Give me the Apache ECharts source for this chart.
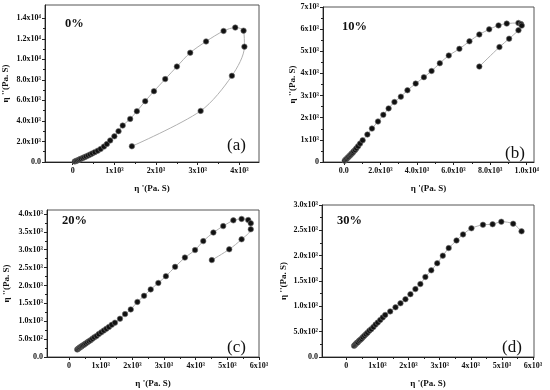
<!DOCTYPE html>
<html><head><meta charset="utf-8">
<script src="https://cdn.jsdelivr.net/npm/echarts@6/dist/echarts.min.js"></script>
<style>html,body{margin:0;padding:0;background:#fff}#c{width:550px;height:390px}</style>
</head><body><div id="c"></div>
<script>
// ---------- DATA ----------
const aX = [50,80,110,140,170,200,240,280,320,370,420,470,530,600,670,750,820,900,1000,1100,1200,1380,1540,1740,1950,2220,2500,2820,3200,3620,3900,4100,4120,3820,3070,1420];
const aY = [50,100,150,200,260,320,390,460,540,630,730,840,960,1100,1270,1500,1750,2100,2500,3000,3550,4200,4950,5930,6900,8080,9300,10650,11750,12770,13100,12800,11240,8400,4980,1530];
const bX = [50,110,160,220,270,330,380,430,490,540,620,690,780,890,1030,1290,1540,1870,2160,2450,2770,3120,3480,3930,4380,4800,5250,5740,6320,6870,7410,7950,8460,8910,9550,9690,9730,9550,9040,8510,7410];
const bY = [60,110,150,200,240,290,330,380,420,480,540,620,710,830,980,1240,1510,1830,2130,2420,2710,2950,3240,3540,3830,4110,4460,4810,5110,5450,5760,5990,6170,6250,6280,6230,6160,5950,5570,5190,4310];
const cX = [260,290,320,350,380,410,450,490,530,580,630,680,740,800,870,940,1020,1100,1180,1260,1350,1450,1610,1770,1950,2160,2370,2580,2820,3060,3350,3660,3980,4240,4560,4870,5190,5450,5660,5740,5740,5450,5060,4510];
const cY = [210,230,250,270,290,310,330,355,380,410,440,470,510,550,590,640,690,740,790,840,900,960,1070,1200,1330,1540,1710,1890,2070,2260,2520,2780,2990,3240,3480,3660,3820,3860,3830,3740,3570,3290,3010,2710];
const dX = [250,280,310,340,370,410,450,490,530,580,630,680,740,800,870,940,1010,1090,1170,1250,1410,1580,1740,1900,2060,2220,2380,2540,2730,2920,3100,3290,3540,3750,4020,4390,4700,4980,5360,5630];
const dY = [220,240,260,280,290,320,340,360,390,420,450,480,520,550,590,640,680,730,780,830,900,980,1060,1140,1240,1340,1440,1580,1710,1850,2000,2150,2300,2420,2540,2610,2620,2670,2630,2480];

const aXTicks = [0,1000,2000,3000,4000];
const aXLabels = ['0','1x10³','2x10³','3x10³','4x10³'];
const aYTicks = [0,2000,4000,6000,8000,10000,12000,14000];
const aYLabels = ['0.0','2.0x10³','4.0x10³','6.0x10³','8.0x10³','1.0x10⁴','1.2x10⁴','1.4x10⁴'];
const bXTicks = [0,2000,4000,6000,8000,10000];
const bXLabels = ['0.0','2.0x10³','4.0x10³','6.0x10³','8.0x10³','1.0x10⁴'];
const bYTicks = [0,1000,2000,3000,4000,5000,6000,7000];
const bYLabels = ['0','1x10³','2x10³','3x10³','4x10³','5x10³','6x10³','7x10³'];
const cXTicks = [0,1000,2000,3000,4000,5000,6000];
const cXLabels = ['0','1x10³','2x10³','3x10³','4x10³','5x10³','6x10³'];
const cYTicks = [0,500,1000,1500,2000,2500,3000,3500,4000];
const cYLabels = ['0.0','5.0x10²','1.0x10³','1.5x10³','2.0x10³','2.5x10³','3.0x10³','3.5x10³','4.0x10³'];
const dXTicks = [0,1000,2000,3000,4000,5000,6000];
const dXLabels = ['0','1x10³','2x10³','3x10³','4x10³','5x10³','6x10³'];
const dYTicks = [0,500,1000,1500,2000,2500,3000];
const dYLabels = ['0.0','5.0x10²','1.0x10³','1.5x10³','2.0x10³','2.5x10³','3.0x10³'];

const concLabels = ['0%','10%','20%','30%'];
const panelLabels = ['(a)','(b)','(c)','(d)'];
const xName = "η '(Pa. S)";
const yName = "η ''(Pa. S)";

// ---------- LAYOUT / STYLE ----------
const FONT = '"Liberation Serif","Times New Roman",serif';
const panels = [
  {x:aX,y:aY,xt:aXTicks,xl:aXLabels,yt:aYTicks,yl:aYLabels,xmin:-664,xmax:4470,ymin:0,ymax:15300,grid:{left:45,top:5,width:214,height:157},yGap:35,conc:[65,17],lab:[227,137]},
  {x:bX,y:bY,xt:bXTicks,xl:bXLabels,yt:bYTicks,yl:bYLabels,xmin:-1137,xmax:10400,ymin:0,ymax:7000,grid:{left:323,top:7,width:211,height:155},yGap:25,conc:[342,20],lab:[505,145]},
  {x:cX,y:cY,xt:cXTicks,xl:cXLabels,yt:cYTicks,yl:cYLabels,xmin:-695,xmax:6000,ymin:0,ymax:4110,grid:{left:47,top:210,width:212,height:147},yGap:36,conc:[62,214],lab:[227,339]},
  {x:dX,y:dY,xt:dXTicks,xl:dXLabels,yt:dYTicks,yl:dYLabels,xmin:-781,xmax:6030,ymin:0,ymax:3000,grid:{left:322,top:205,width:212,height:152},yGap:34,conc:[337,214],lab:[502,339]}
];

function mids(t){const r=[];for(let i=0;i<t.length-1;i++)r.push((t[i]+t[i+1])/2);return r;}
function fmt(ticks,labels){return v=>{let bi=-1,bd=Infinity;ticks.forEach((t,i)=>{const d=Math.abs(t-v);if(d<bd){bd=d;bi=i;}});return bd<1e-3?labels[bi]:'';};}

const grids=[],xAxes=[],yAxes=[],series=[],graphics=[];
const lineC='#222';
panels.forEach((p,i)=>{
  grids.push(Object.assign({show:true,borderColor:'#555',borderWidth:1,backgroundColor:'transparent',containLabel:false},p.grid));
  const labelStyle={fontFamily:FONT,fontWeight:'bold',fontSize:8,color:'#111'};
  const xi=xAxes.length, yi=yAxes.length;
  xAxes.push({type:'value',gridIndex:i,min:p.xmin,max:p.xmax,position:'bottom',
    axisLine:{show:true,onZero:false,lineStyle:{color:lineC,width:1}},
    axisTick:{show:true,customValues:p.xt,length:3,lineStyle:{color:lineC}},
    axisLabel:Object.assign({customValues:p.xt,formatter:fmt(p.xt,p.xl),margin:5},labelStyle),
    splitLine:{show:false},
    name:xName,nameLocation:'middle',nameGap:22,nameTextStyle:{fontFamily:FONT,fontWeight:'bold',fontSize:9,color:'#111'}});
  xAxes.push({type:'value',gridIndex:i,min:p.xmin,max:p.xmax,position:'bottom',
    axisLine:{show:false,onZero:false},axisTick:{show:true,customValues:mids(p.xt),length:2,lineStyle:{color:lineC}},
    axisLabel:{show:false},splitLine:{show:false}});
  yAxes.push({type:'value',gridIndex:i,min:p.ymin,max:p.ymax,position:'left',
    axisLine:{show:true,onZero:false,lineStyle:{color:lineC,width:1}},
    axisTick:{show:true,customValues:p.yt,length:3,lineStyle:{color:lineC}},
    axisLabel:Object.assign({customValues:p.yt,formatter:fmt(p.yt,p.yl),margin:4},labelStyle),
    splitLine:{show:false},
    name:yName,nameLocation:'middle',nameGap:p.yGap,nameRotate:90,nameTextStyle:{fontFamily:FONT,fontWeight:'bold',fontSize:9,color:'#111'}});
  yAxes.push({type:'value',gridIndex:i,min:p.ymin,max:p.ymax,position:'left',
    axisLine:{show:false,onZero:false},axisTick:{show:true,customValues:mids(p.yt),length:2,lineStyle:{color:lineC}},
    axisLabel:{show:false},splitLine:{show:false}});
  series.push({type:'line',xAxisIndex:xi,yAxisIndex:yi,data:p.x.map((v,k)=>[v,p.y[k]]),
    smooth:0.3,symbol:'circle',symbolSize:5.5,showSymbol:true,animation:false,
    itemStyle:{color:'#111',borderColor:'#777',borderWidth:0.6},
    lineStyle:{color:'#b0b0b0',width:1}});
  graphics.push({type:'text',left:p.conc[0],top:p.conc[1],style:{text:concLabels[i],fontFamily:FONT,fontWeight:'bold',fontSize:12.5,fill:'#111'}});
  graphics.push({type:'text',left:p.lab[0],top:p.lab[1],style:{text:panelLabels[i],fontFamily:FONT,fontSize:17,fill:'#111'}});
});

const chart=echarts.init(document.getElementById('c'),null,{renderer:'canvas'});
chart.setOption({animation:false,backgroundColor:'#fff',grid:grids,xAxis:xAxes,yAxis:yAxes,series:series,graphic:graphics});
</script></body></html>
